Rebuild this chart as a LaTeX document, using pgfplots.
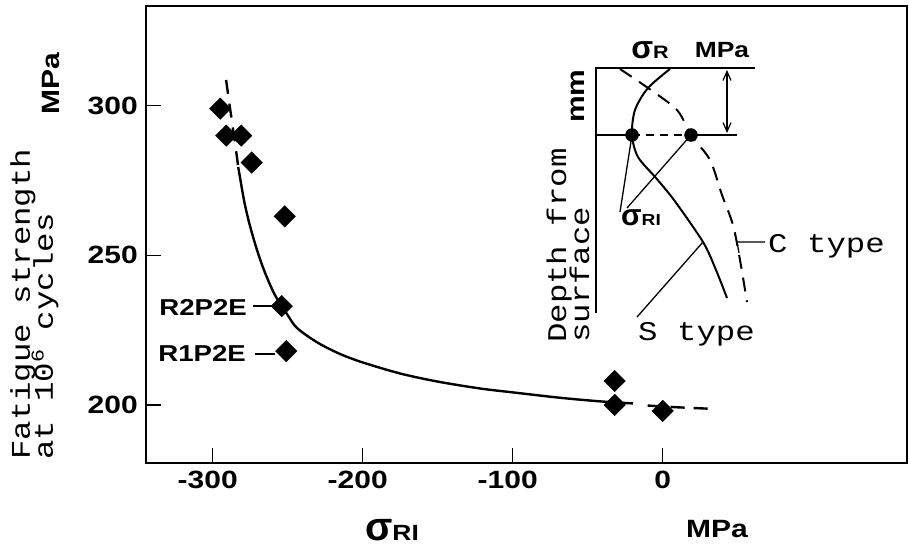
\documentclass[border=0pt]{standalone}
\usepackage{pgfplots}
\pgfplotsset{compat=1.18}
\usepackage{fontspec}
\setmainfont{Liberation Sans}
\newfontfamily\hv[FakeStretch=1.2]{Liberation Sans}
\newfontfamily\tw[FakeStretch=1.2]{Liberation Mono}
\newfontfamily\grk{Liberation Sans}
\usetikzlibrary{arrows.meta}
\newcommand\hvf[1]{\hv\bfseries\fontsize{#1}{#1}\selectfont}
\newcommand\twf[1]{\tw\fontsize{#1}{#1}\selectfont}
\newcommand\sig[1]{{\grk\bfseries\fontsize{#1}{#1}\selectfont σ}}
\begin{document}
\begin{tikzpicture}
\useasboundingbox (-146pt,-89pt) rectangle (763pt,463pt);
\begin{axis}[
  width=761pt, height=457pt, scale only axis,
  xmin=-344.5, xmax=162.9, ymin=180.6, ymax=333.3,
  axis line style={line width=1.6pt},
  xtick={-300,-200,-100,0}, xticklabels={\llap{-}300,\llap{-}200,\llap{-}100,0},
  ytick={200,250,300}, yticklabels={200,250,300},
  tick align=inside, major tick length=15pt, tick pos=left,
  tick style={line width=1.3pt, black},
  xticklabel style={font=\hvf{25}, anchor=north, inner sep=0pt, yshift=-8pt},
  yticklabel style={font=\hvf{25}, anchor=east, inner sep=0pt, xshift=-8pt},
  clip=false,
]
% fitted curve, dashed top part
\addplot[line width=2.4pt, dash pattern=on 14pt off 10pt, smooth] coordinates {
 (-291.1,308.6) (-289,301) (-287,294) (-285,287) (-283,279.5)};
% solid main part
\addplot[line width=2.4pt, smooth] coordinates {
 (-283,279.5) (-279,268) (-275,259.5) (-270,251) (-265,244) (-258.5,236.7)
 (-250,230) (-243.8,225.7) (-230,220.8) (-215,217) (-200,214.2) (-175,210.5)
 (-150,207.8) (-121.8,205.5) (-100,204.2) (-68.5,202.4) (-41.8,201.2) (-19.8,200.5)};
% dashed end
\addplot[line width=2.4pt, dash pattern=on 14pt off 9pt] coordinates {
 (-10,199.8) (10.2,199.2) (32.9,198.7)};
% data points
\addplot[only marks, mark=square*, mark size=7.6pt, mark options={rotate=45, fill=black, draw=black}] coordinates {
 (-295,299) (-291,290) (-281,290) (-274,281) (-252,263)
 (-254,233) (-251,218) (-32,208) (-32,200) (0,198)};
\end{axis}
% overlay axis in pixel coordinates for labels and the inset sketch
\begin{axis}[
  width=761pt, height=457pt, scale only axis, hide axis,
  xmin=146, xmax=907, ymin=6, ymax=463, y dir=reverse, clip=false,
]
% axis titles
\node[inner sep=0pt] at (axis cs:392,530) {\sig{40}{\hvf{22}RI}};
\node[inner sep=0pt, font=\hvf{25}] at (axis cs:717,529) {MPa};
\node[rotate=90, anchor=base west, inner sep=0pt, font=\twf{27}] at (axis cs:30,460) {Fatigue strength};
\node[rotate=90, anchor=base west, inner sep=0pt, font=\twf{27}] at (axis cs:53,460) {at 10\raisebox{0.35em}{\fontsize{18}{18}\selectfont 6} cycles};
\node[rotate=90, inner sep=0pt, font=\hvf{25}] at (axis cs:51,84) {MPa};
% specimen labels
\node[anchor=east, inner sep=0pt, font=\hvf{23}] at (axis cs:247,307) {R2P2E};
\node[anchor=east, inner sep=0pt, font=\hvf{23}] at (axis cs:246,353) {R1P2E};
\addplot[line width=1.2pt] coordinates {(253,306) (273,306)};
\addplot[line width=1.2pt] coordinates {(255,354) (275,354)};
% inset axes
\addplot[line width=1.8pt] coordinates {(596,313) (596,68) (755,68)};
\node[rotate=90, inner sep=0pt, font=\hvf{25}] at (axis cs:578,96) {mm};
\node[inner sep=0pt] at (axis cs:650,50) {\sig{32}{\hvf{18}R}};
\node[inner sep=0pt, font=\hvf{22}] at (axis cs:722,50) {MPa};
% depth line
\addplot[line width=1.2pt] coordinates {(596,135) (632,135)};
\addplot[line width=1.2pt, dash pattern=on 8pt off 6pt] coordinates {(632,135) (691,135)};
\addplot[line width=1.2pt] coordinates {(691,135) (737,135)};
\addplot[line width=1.2pt, {Straight Barb[length=9pt,width=8pt]}-{Straight Barb[length=9pt,width=8pt]}] coordinates {(727,70) (727,133)};
% S type (solid) and C type (dashed)
\addplot[line width=2pt, smooth] coordinates {
 (670,69) (648,88) (635,110) (632,135) (638,157) (656,178) (674,200) (703,242) (716,270) (727,298)};
\addplot[line width=2pt, smooth, dash pattern=on 14pt off 9pt] coordinates {
 (620,69) (648,88) (677,110) (691,135) (710,160) (722,195) (733,225) (740,260) (747,302)};
\addplot[only marks, mark=*, mark size=6.5pt, mark options={fill=black}] coordinates {(632,135) (691,135)};
% leaders
\addplot[line width=1.3pt] coordinates {(632,135) (620,212)};
\addplot[line width=1.3pt] coordinates {(691,135) (627,208)};
\addplot[line width=1.3pt] coordinates {(703,242) (637,317)};
\addplot[line width=1.3pt] coordinates {(739,253) (737,242) (765,242)};
\node[inner sep=0pt] at (axis cs:641,218) {\sig{30}{\hvf{16}RI}};
\node[anchor=base west, inner sep=0pt, font=\twf{27}] at (axis cs:768,252) {C type};
\node[anchor=base west, inner sep=0pt, font=\twf{27}] at (axis cs:638,340) {S type};
\node[rotate=90, anchor=base west, inner sep=0pt, font=\twf{27}] at (axis cs:566,343) {Depth from};
\node[rotate=90, anchor=base west, inner sep=0pt, font=\twf{27}] at (axis cs:589,343) {surface};
\end{axis}
\end{tikzpicture}
\end{document}
